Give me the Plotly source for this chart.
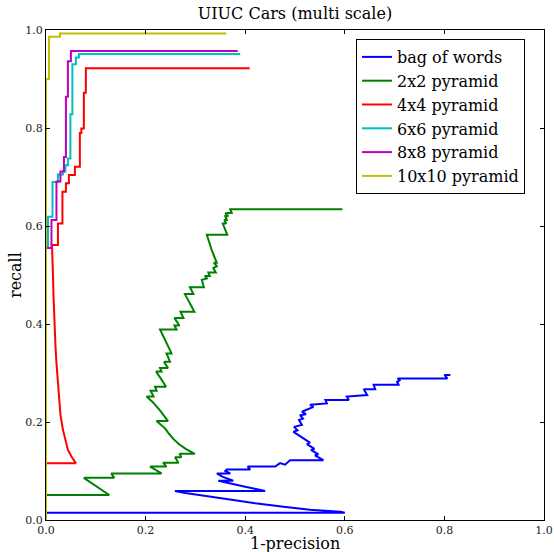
import plotly.graph_objects as go

series_names = ["bag of words", "2x2 pyramid", "4x4 pyramid", "6x6 pyramid", "8x8 pyramid", "10x10 pyramid"]
series_colors = ["#0000ff", "#008000", "#ff0000", "#00bfbf", "#bf00bf", "#bfbf00"]

bow_x = [0, 0.600, 0.591, 0.530, 0.477, 0.420, 0.376, 0.340, 0.309, 0.280, 0.259, 0.440,
         0.400, 0.370, 0.346, 0.376, 0.355, 0.343, 0.370, 0.360, 0.363, 0.410, 0.405, 0.460,
         0.470, 0.480, 0.490, 0.557, 0.540, 0.547, 0.532, 0.539, 0.524, 0.530, 0.497, 0.505,
         0.498, 0.514, 0.508, 0.516, 0.510, 0.522, 0.514, 0.537, 0.530, 0.564, 0.561, 0.608,
         0.604, 0.645, 0.638, 0.661, 0.658, 0.708, 0.705, 0.710, 0.706, 0.806, 0.800, 0.812]
bow_y = [0.015, 0.015, 0.017, 0.021, 0.027, 0.034, 0.041, 0.046, 0.051, 0.055, 0.059, 0.059,
         0.068, 0.075, 0.080, 0.080, 0.088, 0.095, 0.095, 0.100, 0.103, 0.103, 0.109, 0.109,
         0.116, 0.113, 0.122, 0.122, 0.132, 0.134, 0.143, 0.145, 0.155, 0.158, 0.180, 0.183,
         0.190, 0.194, 0.204, 0.207, 0.214, 0.216, 0.221, 0.231, 0.235, 0.238, 0.245, 0.245,
         0.252, 0.255, 0.267, 0.267, 0.276, 0.276, 0.282, 0.285, 0.289, 0.289, 0.296, 0.296]

p2_x = [0, 0, 0.127, 0.076, 0.137, 0.131, 0.232, 0.209, 0.242, 0.235, 0.266, 0.259, 0.272,
        0.268, 0.299, 0.282, 0.268, 0.256, 0.247, 0.239, 0.222, 0.245, 0.230, 0.215, 0.202,
        0.216, 0.210, 0.222, 0.219, 0.241, 0.231, 0.221, 0.232, 0.229, 0.245, 0.237, 0.249,
        0.242, 0.252, 0.240, 0.229, 0.262, 0.258, 0.268, 0.258, 0.276, 0.270, 0.298, 0.288,
        0.279, 0.296, 0.289, 0.317, 0.313, 0.323, 0.319, 0.329, 0.326, 0.341, 0.336, 0.343,
        0.337, 0.343, 0.333, 0.323, 0.364, 0.355, 0.362, 0.358, 0.363, 0.360, 0.366, 0.360,
        0.373, 0.370, 0.595]
p2_y = [0, 0.051, 0.051, 0.086, 0.086, 0.095, 0.095, 0.109, 0.109, 0.117, 0.117, 0.128, 0.128,
        0.135, 0.135, 0.144, 0.154, 0.165, 0.176, 0.187, 0.202, 0.202, 0.222, 0.240, 0.252,
        0.252, 0.264, 0.264, 0.272, 0.272, 0.288, 0.303, 0.303, 0.310, 0.310, 0.323, 0.323,
        0.340, 0.340, 0.365, 0.389, 0.389, 0.397, 0.397, 0.412, 0.412, 0.425, 0.425, 0.443,
        0.461, 0.461, 0.475, 0.475, 0.490, 0.493, 0.498, 0.498, 0.505, 0.505, 0.514, 0.518,
        0.525, 0.525, 0.550, 0.582, 0.582, 0.605, 0.605, 0.612, 0.612, 0.620, 0.620, 0.626,
        0.627, 0.634, 0.634]

p4_x = [0, 0, 0.060, 0.052, 0.044, 0.038, 0.034, 0.029, 0.026, 0.023, 0.021, 0.019, 0.0175,
        0.016, 0.015, 0.014, 0.013, 0.012, 0.024, 0.024, 0.033, 0.033, 0.040, 0.040, 0.046,
        0.046, 0.058, 0.058, 0.068, 0.068, 0.071, 0.071, 0.076, 0.076, 0.080, 0.080, 0.409]
p4_y = [0, 0.116, 0.116, 0.128, 0.143, 0.165, 0.184, 0.215, 0.252, 0.285, 0.320, 0.355, 0.388,
        0.420, 0.460, 0.500, 0.530, 0.561, 0.561, 0.605, 0.605, 0.670, 0.670, 0.687, 0.687,
        0.704, 0.704, 0.721, 0.721, 0.790, 0.790, 0.799, 0.799, 0.872, 0.872, 0.922, 0.922]

p6_x = [0, 0, 0.004, 0.004, 0.013, 0.013, 0.024, 0.024, 0.034, 0.034, 0.039, 0.039, 0.044,
        0.044, 0.049, 0.049, 0.053, 0.053, 0.060, 0.060, 0.066, 0.066, 0.390]
p6_y = [0, 0.555, 0.555, 0.619, 0.619, 0.690, 0.690, 0.705, 0.705, 0.711, 0.711, 0.724, 0.724,
        0.738, 0.738, 0.828, 0.828, 0.930, 0.930, 0.944, 0.944, 0.951, 0.951]

p8_x = [0, 0, 0.011, 0.011, 0.021, 0.021, 0.029, 0.029, 0.036, 0.036, 0.040, 0.040, 0.044,
        0.044, 0.050, 0.050, 0.385]
p8_y = [0, 0.555, 0.555, 0.612, 0.612, 0.691, 0.691, 0.711, 0.711, 0.741, 0.741, 0.864, 0.864,
        0.936, 0.936, 0.957, 0.957]

p10_x = [0, 0, 0.006, 0.006, 0.028, 0.028, 0.362]
p10_y = [0, 0.900, 0.900, 0.986, 0.986, 0.993, 0.993]

xs = [bow_x, p2_x, p4_x, p6_x, p8_x, p10_x]
ys = [bow_y, p2_y, p4_y, p6_y, p8_y, p10_y]

tick_vals = [0.0, 0.2, 0.4, 0.6, 0.8, 1.0]
tick_text = ["0.0", "0.2", "0.4", "0.6", "0.8", "1.0"]

font_family = "DejaVu Serif"

fig = go.Figure()
for name, color, x, y in zip(series_names, series_colors, xs, ys):
    fig.add_trace(go.Scatter(x=x, y=y, mode="lines", name=name,
                             line=dict(color=color, width=2)))

axis_common = dict(
    range=[0, 1], tickvals=tick_vals, ticktext=tick_text, automargin=False,
    showgrid=False, zeroline=False, showline=True, linecolor="black", linewidth=1,
    mirror="allticks", ticks="inside", ticklen=4, tickcolor="black",
    tickfont=dict(family=font_family, size=11, color="#222"),
)

fig.update_layout(
    width=554, height=552,
    margin=dict(l=46, r=10, t=30, b=32, autoexpand=False),
    paper_bgcolor="white", plot_bgcolor="white",
    font=dict(family=font_family, color="black"),
    title=dict(text="UIUC Cars (multi scale)", x=0.5, xref="paper", automargin=False,
               y=1 - 13 / 552, yref="container", yanchor="middle",
               font=dict(family=font_family, size=16, color="black")),
    xaxis=dict(**axis_common),
    yaxis=dict(**axis_common),
    legend=dict(x=(356 - 46) / 498, y=1 - (39 - 30) / 490, xanchor="left", yanchor="top",
                bordercolor="black", borderwidth=1, bgcolor="white",
                font=dict(family=font_family, size=16), itemwidth=30,
                tracegroupgap=0),
    showlegend=True,
    annotations=[
        dict(text="1-precision", x=0.5, xref="paper", y=-(543 - 520) / 490, yref="paper",
             yanchor="middle", showarrow=False, font=dict(family=font_family, size=16)),
        dict(text="recall", x=-(46 - 15) / 498, xref="paper", xanchor="center",
             y=0.5, yref="paper", showarrow=False, textangle=-90,
             font=dict(family=font_family, size=16)),
    ],
)

fig.write_html("out.html", config={"displayModeBar": False},
               post_script="document.body.style.margin='0px';")
